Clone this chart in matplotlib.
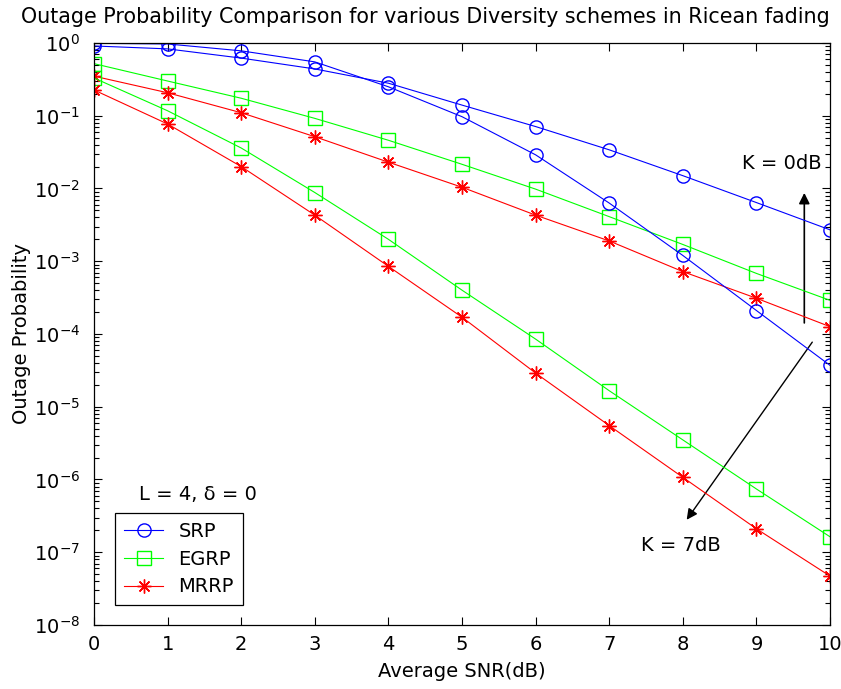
import matplotlib
matplotlib.use("Agg")
import matplotlib.pyplot as plt
from matplotlib.patches import FancyArrowPatch
from matplotlib.ticker import LogLocator, NullFormatter

plt.rcParams['font.family'] = ['DejaVu Sans']
plt.rcParams['mathtext.fontset'] = 'dejavusans'

snr = [0, 1, 2, 3, 4, 5, 6, 7, 8, 9, 10]

# K = 0 dB
srp_k0 = [0.91, 0.83, 0.62, 0.44, 0.28, 0.14, 0.071, 0.034, 0.015, 0.0064, 0.0027]
egrp_k0 = [0.52, 0.30, 0.174, 0.092, 0.046, 0.0215, 0.0098, 0.0041, 0.0017, 6.8e-4, 2.9e-4]
mrrp_k0 = [0.35, 0.207, 0.11, 0.0515, 0.023, 0.0104, 0.0043, 0.0019, 7.2e-4, 3.1e-4, 1.26e-4]

# K = 7 dB
srp_k7 = [0.99, 0.97, 0.78, 0.55, 0.25, 0.097, 0.029, 0.0063, 0.0012, 2.1e-4, 3.7e-5]
egrp_k7 = [0.33, 0.117, 0.036, 0.0088, 0.0020, 4.0e-4, 8.5e-5, 1.66e-5, 3.5e-6, 7.4e-7, 1.63e-7]
mrrp_k7 = [0.226, 0.077, 0.020, 0.0043, 8.5e-4, 1.7e-4, 2.9e-5, 5.5e-6, 1.07e-6, 2.1e-7, 4.7e-8]

fig = plt.figure(figsize=(8.41, 6.89), dpi=100)
ax = fig.add_axes([0.1118, 0.0929, 0.8752, 0.8447])

star = (8, 2, 0)   # matlab style asterisk
kw = dict(lw=0.8)
ax.semilogy(snr, srp_k0, '-', marker='o', color='blue', mfc='none', ms=9.5, label='SRP', **kw)
ax.semilogy(snr, egrp_k0, '-', marker='s', color='#00ff00', mfc='none', ms=10, label='EGRP', **kw)
ax.semilogy(snr, mrrp_k0, '-', marker=star, color='red', ms=10, mew=1.0, label='MRRP', **kw)
ax.semilogy(snr, srp_k7, '-', marker='o', color='blue', mfc='none', ms=9.5, **kw)
ax.semilogy(snr, egrp_k7, '-', marker='s', color='#00ff00', mfc='none', ms=10, **kw)
ax.semilogy(snr, mrrp_k7, '-', marker=star, color='red', ms=10, mew=1.0, **kw)

ax.set_xlim(0, 10)
ax.set_ylim(1e-8, 1)
ax.set_xticks(range(11))
ax.yaxis.set_major_locator(LogLocator(base=10, numticks=20))
ax.yaxis.set_minor_locator(LogLocator(base=10, subs=range(2, 10), numticks=100))
ax.yaxis.set_minor_formatter(NullFormatter())
ax.tick_params(which='both', direction='in', top=True, right=True, labelsize=14, width=0.8)
ax.tick_params(axis='x', pad=7)
ax.tick_params(axis='y', pad=10)
ax.tick_params(which='major', length=6)
ax.tick_params(which='minor', length=3.5)
ax.xaxis.offsetText.set_visible(False)
ax.yaxis.offsetText.set_visible(False)
for s in ax.spines.values():
    s.set_linewidth(0.9)

fig.text(425 / 841, 1 - 17 / 689,
         'Outage Probability Comparison for various Diversity schemes in Ricean fading',
         fontsize=14.9, ha='center', va='center')
ax.set_xlabel('Average SNR(dB)', fontsize=14, labelpad=6)
ax.set_ylabel('Outage Probability', fontsize=14, labelpad=2)

# annotations
ax.add_patch(FancyArrowPatch((9.65, 1.3e-4), (9.65, 0.0095), arrowstyle='-|>',
                             mutation_scale=16, color='black', lw=1.2))
ax.text(9.35, 0.022, 'K = 0dB', fontsize=14, ha='center', va='center')
ax.add_patch(FancyArrowPatch((9.78, 8.3e-5), (8.03, 2.6e-7), arrowstyle='-|>',
                             mutation_scale=16, color='black', lw=1.0))
ax.text(7.97, 1.25e-7, 'K = 7dB', fontsize=14, ha='center', va='center')

ax.text(1.41, 6.2e-7, 'L = 4, δ = 0', fontsize=14, ha='center', va='center')
leg = ax.legend(loc='lower left', bbox_to_anchor=(0.029, 0.034), fontsize=14,
                fancybox=False, edgecolor='black', framealpha=1, numpoints=1,
                handlelength=2.0, borderpad=0.45, labelspacing=0.45, handletextpad=0.8,
                borderaxespad=0)
leg.get_frame().set_linewidth(0.9)

fig.savefig('out.png', dpi=100)
